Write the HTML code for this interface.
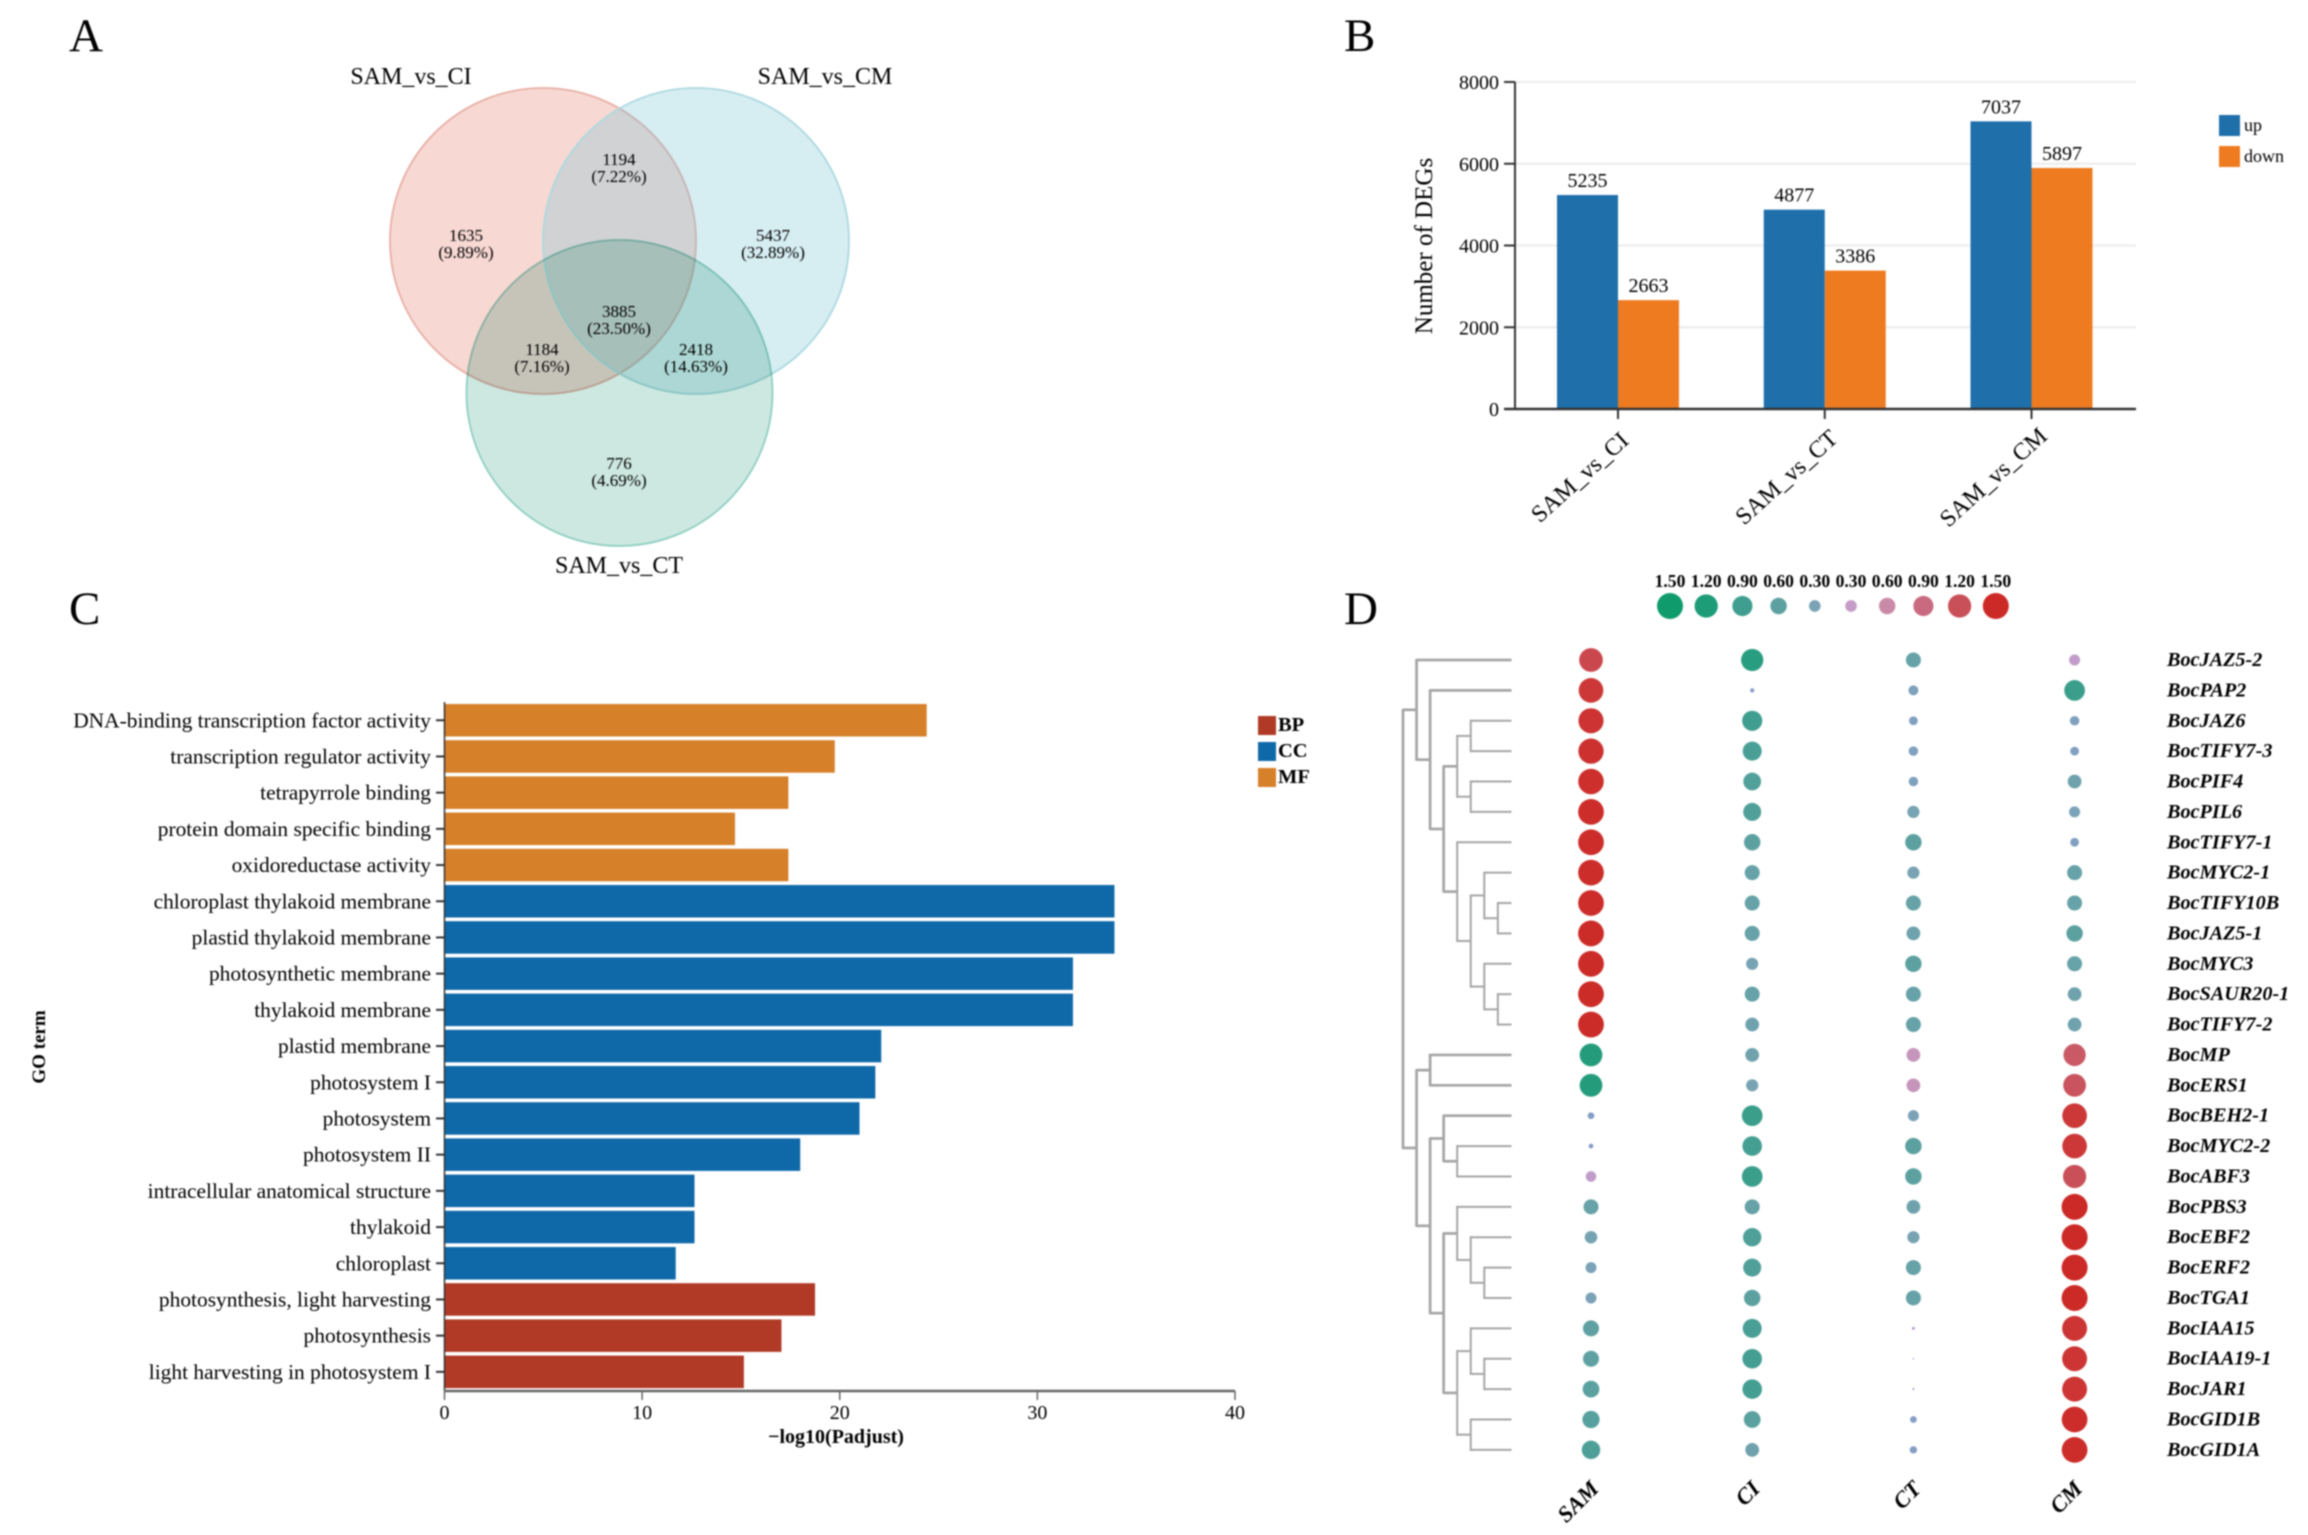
<!DOCTYPE html>
<html lang="en">
<head>
<meta charset="utf-8">
<title>Differential expression figure</title>
<style>
html,body{margin:0;padding:0;background:#fff}
#figure{display:block;filter:blur(0.7px)}
text{font-family:"Liberation Serif",serif;fill:#000}
</style>
</head>
<body>
<svg id="figure" width="2308" height="1535" viewBox="0 0 2308 1535" xmlns="http://www.w3.org/2000/svg">
<rect width="2308" height="1535" fill="#ffffff"/>
<text x="69" y="51" font-size="47">A</text>
<text x="1344" y="51" font-size="47">B</text>
<text x="69" y="624" font-size="47">C</text>
<text x="1344" y="624" font-size="47">D</text>

<g id="venn" style="isolation:isolate">
<circle cx="543" cy="241" r="153" fill="#f7d8d3" stroke="#e8afa6" stroke-width="1.8"/>
<circle cx="696" cy="241" r="153" fill="rgb(120,195,212)" fill-opacity="0.3" stroke="#add9e0" stroke-width="1.8"/>
<circle cx="619.5" cy="393" r="153" fill="#cde8e0" stroke="#90cfc2" stroke-width="1.8" style="mix-blend-mode:multiply"/>
<g font-size="24" text-anchor="middle">
<text x="411" y="84">SAM_vs_CI</text>
<text x="825" y="84">SAM_vs_CM</text>
<text x="619" y="573">SAM_vs_CT</text>
</g>
<g font-size="17" text-anchor="middle">
<text x="619" y="165">1194</text><text x="619" y="182">(7.22%)</text>
<text x="466" y="241">1635</text><text x="466" y="258">(9.89%)</text>
<text x="773" y="241">5437</text><text x="773" y="258">(32.89%)</text>
<text x="619" y="317">3885</text><text x="619" y="334">(23.50%)</text>
<text x="542" y="355">1184</text><text x="542" y="372">(7.16%)</text>
<text x="696" y="355">2418</text><text x="696" y="372">(14.63%)</text>
<text x="619" y="469">776</text><text x="619" y="486">(4.69%)</text>
</g>
</g>
<g id="panelB"></g>
<g id="panelC"></g>
<g id="panelD"></g>
</svg>
<script>
/* ---------- Panel B data ---------- */
const degCategories = ['SAM_vs_CI', 'SAM_vs_CT', 'SAM_vs_CM'];
const degUp = [5235, 4877, 7037];
const degDown = [2663, 3386, 5897];
const degTicks = [0, 2000, 4000, 6000, 8000];

/* ---------- Panel C data ---------- */
const goTerms = ['DNA-binding transcription factor activity', 'transcription regulator activity', 'tetrapyrrole binding', 'protein domain specific binding', 'oxidoreductase activity', 'chloroplast thylakoid membrane', 'plastid thylakoid membrane', 'photosynthetic membrane', 'thylakoid membrane', 'plastid membrane', 'photosystem I', 'photosystem', 'photosystem II', 'intracellular anatomical structure', 'thylakoid', 'chloroplast', 'photosynthesis, light harvesting', 'photosynthesis', 'light harvesting in photosystem I'];
const goValues = [24.4, 19.75, 17.4, 14.7, 17.4, 33.9, 33.9, 31.8, 31.8, 22.1, 21.8, 21.0, 18.0, 12.65, 12.65, 11.7, 18.75, 17.05, 15.15];
const goClasses = ['MF', 'MF', 'MF', 'MF', 'MF', 'CC', 'CC', 'CC', 'CC', 'CC', 'CC', 'CC', 'CC', 'CC', 'CC', 'CC', 'BP', 'BP', 'BP'];
const goTicks = [0, 10, 20, 30, 40];
const goLegend = ['BP', 'CC', 'MF'];

/* ---------- Panel D data ---------- */
const genes = ['BocJAZ5-2', 'BocPAP2', 'BocJAZ6', 'BocTIFY7-3', 'BocPIF4', 'BocPIL6', 'BocTIFY7-1', 'BocMYC2-1', 'BocTIFY10B', 'BocJAZ5-1', 'BocMYC3', 'BocSAUR20-1', 'BocTIFY7-2', 'BocMP', 'BocERS1', 'BocBEH2-1', 'BocMYC2-2', 'BocABF3', 'BocPBS3', 'BocEBF2', 'BocERF2', 'BocTGA1', 'BocIAA15', 'BocIAA19-1', 'BocJAR1', 'BocGID1B', 'BocGID1A'];
const samples = ['SAM', 'CI', 'CT', 'CM'];
const valuesSAM = [1.25, 1.35, 1.4, 1.42, 1.45, 1.47, 1.47, 1.47, 1.47, 1.48, 1.48, 1.48, 1.48, -1.15, -1.15, -0.1, -0.05, 0.25, -0.5, -0.35, -0.27, -0.27, -0.57, -0.57, -0.62, -0.66, -0.76];
const valuesCI = [-1.1, -0.04, -0.9, -0.8, -0.7, -0.72, -0.6, -0.5, -0.5, -0.5, -0.33, -0.5, -0.42, -0.42, -0.33, -0.95, -0.85, -0.95, -0.5, -0.75, -0.72, -0.6, -0.8, -0.85, -0.85, -0.62, -0.42];
const valuesCT = [-0.5, -0.22, -0.17, -0.2, -0.2, -0.33, -0.6, -0.33, -0.5, -0.42, -0.6, -0.5, -0.5, 0.42, 0.42, -0.27, -0.6, -0.6, -0.42, -0.33, -0.5, -0.5, 0.02, 0.005, 0.01, -0.1, -0.12];
const valuesCM = [0.27, -0.95, -0.2, -0.17, -0.42, -0.27, -0.17, -0.5, -0.5, -0.6, -0.5, -0.42, -0.42, 1.1, 1.15, 1.35, 1.35, 1.2, 1.5, 1.5, 1.5, 1.5, 1.38, 1.38, 1.38, 1.47, 1.47];
const sizeLegend = [-1.5, -1.2, -0.9, -0.6, -0.3, 0.3, 0.6, 0.9, 1.2, 1.5];
const sizeLegendText = ['1.50', '1.20', '0.90', '0.60', '0.30', '0.30', '0.60', '0.90', '1.20', '1.50'];
/* dendrogram topology: nested pairs of row indices */
const dendrogram = [[0, [1, [[[2, 3], [4, 5]], [6, [[7, [8, 9]], [10, [11, 12]]]]]]], [[13, 14], [[15, [16, 17]], [[18, [19, [20, 21]]], [[22, [23, 24]], [25, 26]]]]]];

const NS = 'http://www.w3.org/2000/svg';
function mk(parent, tag, attrs, txt) {
  const e = document.createElementNS(NS, tag);
  for (const k in attrs) e.setAttribute(k, attrs[k]);
  if (txt !== undefined) e.textContent = txt;
  parent.appendChild(e);
  return e;
}

/* ---------- Panel B ---------- */
(function () {
  const g = document.getElementById('panelB');
  const y = v => 409 - v * (409 - 82) / 8000;
  const xc = i => 1618 + i * 206.75;
  const bw = 61;
  degTicks.forEach(t => {
    if (t > 0) {
      const gl = mk(g, 'line', {x1: 1515, x2: 2136, y1: y(t), y2: y(t), stroke: '#efefef', 'stroke-width': 2.5});
      
      
    }
    const tk = mk(g, 'line', {x1: 1504, x2: 1515, y1: y(t), y2: y(t), stroke: '#333', 'stroke-width': 2});
    
    
    const lb = mk(g, 'text', {x: 1499, y: y(t) + 7, 'font-size': 20, 'text-anchor': 'end'}, String(t));
    
    
  });
  degCategories.forEach((c, i) => {
    const u = mk(g, 'rect', {x: xc(i) - bw, y: y(degUp[i]), width: bw, height: y(0) - y(degUp[i]), fill: '#1f6fab'});
    
    
    const d = mk(g, 'rect', {x: xc(i), y: y(degDown[i]), width: bw, height: y(0) - y(degDown[i]), fill: '#ee7b20'});
    
    
    const ul = mk(g, 'text', {x: xc(i) - bw / 2, y: y(degUp[i]) - 8, 'font-size': 20, 'text-anchor': 'middle'}, String(degUp[i]));
    
    
    const dl = mk(g, 'text', {x: xc(i) + bw / 2, y: y(degDown[i]) - 8, 'font-size': 20, 'text-anchor': 'middle'}, String(degDown[i]));
    
    
    const tk = mk(g, 'line', {x1: xc(i), x2: xc(i), y1: 409, y2: 419, stroke: '#333', 'stroke-width': 2});
    
    
    const cx = xc(i) - 33, cy = 483;
    const cl = mk(g, 'text', {x: cx, y: cy, 'font-size': 24, 'text-anchor': 'middle', transform: 'rotate(-42 ' + cx + ' ' + cy + ')'}, c);
    
    
  });
  const ya = mk(g, 'line', {x1: 1515, x2: 1515, y1: 82, y2: 409, stroke: '#333', 'stroke-width': 2});
  
  
  const xa = mk(g, 'line', {x1: 1504, x2: 2136, y1: 409, y2: 409, stroke: '#333', 'stroke-width': 2.5});
  
  
  const yt = mk(g, 'text', {x: 1432, y: 246, 'font-size': 25, 'text-anchor': 'middle', transform: 'rotate(-90 1432 246)'}, 'Number of DEGs');
  
  
  const r1 = mk(g, 'rect', {x: 2219, y: 115, width: 21, height: 21, fill: '#1f6fab'});
  
  
  const t1 = mk(g, 'text', {x: 2244, y: 131, 'font-size': 18}, 'up');
  
  
  const r2 = mk(g, 'rect', {x: 2219, y: 146, width: 21, height: 21, fill: '#ee7b20'});
  
  
  const t2 = mk(g, 'text', {x: 2244, y: 162, 'font-size': 18}, 'down');
  
  
})();

/* ---------- Panel C ---------- */
(function () {
  const g = document.getElementById('panelC');
  const colours = {BP: '#b03a26', CC: '#0f69a9', MF: '#d6802a'};
  const x = v => 444.5 + v * (1235 - 444.5) / 40;
  const barY = i => 704 + i * 36.2;
  const barH = 32.5;
  goTerms.forEach((t, i) => {
    const b = mk(g, 'rect', {x: x(0), y: barY(i), width: x(goValues[i]) - x(0), height: barH, fill: colours[goClasses[i]]});
    
    
    const c = barY(i) + barH / 2;
    const tk = mk(g, 'line', {x1: 436, x2: 444, y1: c, y2: c, stroke: '#333', 'stroke-width': 2});
    
    
    const lb = mk(g, 'text', {x: 431, y: c + 7, 'font-size': 21.45, 'text-anchor': 'end'}, t);
    
    
  });
  const ya = mk(g, 'line', {x1: 444.5, x2: 444.5, y1: 702, y2: 1391, stroke: '#333', 'stroke-width': 1.5});
  
  
  const xa = mk(g, 'line', {x1: 444, x2: 1235, y1: 1391, y2: 1391, stroke: '#666', 'stroke-width': 2.5});
  
  
  goTicks.forEach(t => {
    const tk = mk(g, 'line', {x1: x(t), x2: x(t), y1: 1391, y2: 1400, stroke: '#666', 'stroke-width': 1.5});
    
    
    const lb = mk(g, 'text', {x: x(t), y: 1419, 'font-size': 20, 'text-anchor': 'middle'}, String(t));
    
    
  });
  const xt = mk(g, 'text', {x: 836, y: 1443, 'font-size': 20, 'font-weight': 'bold', 'text-anchor': 'middle'}, '\u2212log10(Padjust)');
  
  
  const yt = mk(g, 'text', {x: 45, y: 1047, 'font-size': 19, 'font-weight': 'bold', 'text-anchor': 'middle', transform: 'rotate(-90 45 1047)'}, 'GO term');
  
  
  goLegend.forEach((k, i) => {
    const yy = 716 + i * 26;
    const s = mk(g, 'rect', {x: 1258, y: yy, width: 18, height: 19, fill: colours[k]});
    
    
    const l = mk(g, 'text', {x: 1278, y: yy + 15, 'font-size': 20.5, 'font-weight': 'bold'}, k);
    
    
  });
})();

/* ---------- Panel D ---------- */
(function () {
  const g = document.getElementById('panelD');
  const rowY = i => 660 + i * 30.38;
  const colX = j => 1591 + j * 161.2;
  const radius = v => 13 * Math.sqrt(Math.abs(v) / 1.5);
  const stops = [[-1.5, 15, 155, 108], [-1.2, 30, 156, 120], [-0.9, 63, 158, 143], [-0.6, 92, 161, 160], [-0.3, 123, 163, 181], [-0.02, 135, 155, 205], [0.02, 180, 155, 208], [0.3, 196, 156, 199], [0.6, 201, 138, 168], [0.9, 201, 106, 128], [1.2, 201, 80, 88], [1.35, 204, 56, 56], [1.5, 204, 42, 38]];
  function colour(v) {
    if (v <= stops[0][0]) return 'rgb(' + stops[0].slice(1).join(',') + ')';
    for (let k = 1; k < stops.length; k++) {
      if (v <= stops[k][0]) {
        const a = stops[k - 1], b = stops[k], f = (v - a[0]) / (b[0] - a[0]);
        return 'rgb(' + [1, 2, 3].map(c => Math.round(a[c] + (b[c] - a[c]) * f)).join(',') + ')';
      }
    }
    return 'rgb(204,42,38)';
  }
  /* size legend */
  sizeLegend.forEach((v, i) => {
    const cx = 1670 + i * 36.2;
    const c = mk(g, 'circle', {cx: cx, cy: 606, r: radius(v), fill: colour(v)});
    
    
    const t = mk(g, 'text', {x: cx, y: 587, 'font-size': 17.6, 'font-weight': 'bold', 'text-anchor': 'middle'}, sizeLegendText[i]);
    
    
  });
  /* dendrogram */
  const levelX = l => 1403 + l * 13.55;
  const leafX = 1511.5;
  function draw(node, level) {
    if (typeof node === 'number') return {y: rowY(node), x: leafX};
    const cx = levelX(level);
    const sw = level <= 3 ? 2.7 : 2;
    const kids = node.map(n => draw(n, level + 1));
    const top = kids[0].y, bot = kids[1].y;
    const v = mk(g, 'line', {x1: cx, x2: cx, y1: top - 1, y2: bot + 1, stroke: '#a5a5a5', 'stroke-width': sw});
    
    
    kids.forEach(k => {
      const h = mk(g, 'line', {x1: cx, x2: k.x, y1: k.y, y2: k.y, stroke: '#a5a5a5', 'stroke-width': sw});
      
      
    });
    return {y: (top + bot) / 2, x: cx};
  }
  draw(dendrogram, 0);
  /* bubbles */
  const matrix = [valuesSAM, valuesCI, valuesCT, valuesCM];
  matrix.forEach((col, j) => {
    col.forEach((v, i) => {
      const c = mk(g, 'circle', {cx: colX(j), cy: rowY(i), r: radius(v), fill: colour(v)});
      
      
    });
    const ax = colX(j) + 9, ay = 1490;
    const t = mk(g, 'text', {x: ax, y: ay, 'font-size': 22.5, 'font-weight': 'bold', 'font-style': 'italic', 'text-anchor': 'end', transform: 'rotate(-45 ' + ax + ' ' + ay + ')'}, samples[j]);
    
    
  });
  genes.forEach((name, i) => {
    const t = mk(g, 'text', {x: 2167, y: rowY(i) + 6, 'font-size': 20.2, 'font-weight': 'bold', 'font-style': 'italic'}, name);
    
    
  });
})();
</script>
</body>
</html>
